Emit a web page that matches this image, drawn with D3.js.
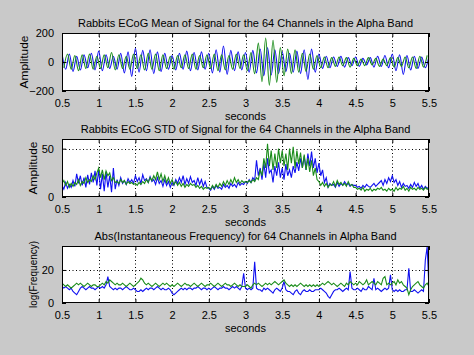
<!DOCTYPE html>
<html><head><meta charset="utf-8">
<script src="https://cdn.jsdelivr.net/npm/d3@7"></script>
<style>
body{margin:0;background:#c9c9c9;}
svg{display:block}
text{font-family:"Liberation Sans",Arial,Helvetica,sans-serif;fill:#000;}
</style>
</head><body>
<svg id="chart" width="474" height="355"></svg>
<script>
// ---------- DATA ----------
const xTicks = [0.5, 1, 1.5, 2, 2.5, 3, 3.5, 4, 4.5, 5, 5.5];
const xTickLabels = ["0.5","1","1.5","2","2.5","3","3.5","4","4.5","5","5.5"];
const xLabel = "seconds";

const titles = [
  "Rabbits ECoG Mean  of Signal for the 64 Channels in the Alpha Band",
  "Rabbits ECoG STD of Signal for the 64 Channels in the Alpha Band",
  "Abs(Instantaneous Frequency) for 64 Channels in Alpha Band"
];
const yLabels = ["Amplitude", "Amplitude", "log(Frequency)"];
const yTicksMean = [-200, 0, 200];
const yTicksStd = [0, 50];
const yTicksFreq = [0, 20];
const yDomainMean = [-200, 200];
const yDomainStd = [0, 60];
const yDomainFreq = [0, 34.5];

// Mean signal: successive peaks / troughs (start time, step between extrema)
const meanBlueStart = 0.5, meanGreenStart = 0.525, meanStep = 0.05;
const meanBlue = [
  60,-50,55,-65,40,-55,50,-40,60,-55,
  75,-60,50,-45,40,-50,60,-75,70,-100,
  95,-70,80,-60,85,-80,70,-65,60,-50,
  45,-55,60,-50,75,-60,65,-55,70,-50,
  60,-75,85,-70,110,-85,80,-60,70,-55,
  65,-70,80,-75,90,-95,100,-90,85,-80,
  70,-65,60,-70,75,-80,85,-120,90,-70,
  55,-45,40,-40,35,-30,40,-35,30,-25,
  35,-30,25,-20,30,-35,40,-30,45,-40,
  55,-60,50,-85,45,-55,40,-45,35,-40,
  40
];
const meanGreen = [
  -40,55,-50,45,-60,50,-45,55,-50,40,
  -45,50,-40,65,-55,50,-45,40,-50,55,
  -45,50,-55,60,-50,55,-60,50,-45,40,
  -50,45,-40,50,-45,55,-50,45,-40,50,
  -45,55,-60,50,-55,45,-50,55,-45,50,
  -60,65,-80,130,-135,165,-160,150,-140,100,
  -95,90,-80,85,-70,60,-65,55,-50,45,
  -40,35,-40,30,-30,35,-25,30,-35,25,
  -25,20,-25,30,-20,25,-30,20,-25,30,
  -35,30,-30,35,-40,35,-45,40,-35,45
];

// STD and frequency: samples every 25 ms from 0.5 s
const sampleStart = 0.5, sampleStep = 0.025;
const stdBlue = [
  12,8,15,9,13,10,17,11,24,14,22,12,20,10,23,13,25,15,27,12,
  28,8,24,6,26,10,22,5,30,8,18,12,20,14,17,13,19,15,18,14,
  22,16,20,14,23,17,19,15,21,16,18,13,20,14,17,11,18,12,16,10,
  15,12,18,14,20,15,22,13,19,14,21,15,17,12,20,13,18,11,16,10,
  9,7,11,8,12,9,10,8,13,10,12,9,14,11,13,10,15,12,14,13,
  16,14,18,15,20,17,38,22,30,18,35,20,40,25,28,15,32,22,36,20,
  30,18,34,22,28,20,32,25,36,27,40,30,42,28,45,32,47,30,40,25,
  35,22,28,15,20,10,14,12,13,10,15,11,14,12,16,13,14,11,13,12,
  12,10,11,9,12,10,13,11,10,12,14,11,13,15,17,12,18,14,20,16,
  22,15,18,12,16,10,14,11,12,9,13,10,15,11,14,9,12,8,11,9,
  10
];
const stdGreen = [
  14,17,12,16,10,14,11,15,13,18,12,16,14,20,15,18,16,22,18,25,
  30,20,28,18,27,22,25,17,20,15,16,14,18,15,17,13,16,14,15,13,
  14,12,15,13,16,14,18,15,20,17,22,18,26,18,24,16,22,15,20,14,
  18,13,16,12,15,11,14,10,13,11,14,12,13,10,12,9,11,8,10,9,
  10,8,12,9,13,10,14,11,16,12,17,13,18,14,20,15,18,14,17,15,
  16,15,17,15,18,16,20,18,28,22,40,30,55,32,48,28,45,30,50,35,
  48,32,45,28,50,35,52,30,48,34,46,30,44,28,40,26,38,22,30,18,
  16,12,15,11,14,10,13,12,16,11,17,13,15,12,14,11,16,12,13,10,
  10,8,9,7,10,6,8,7,9,6,8,7,9,8,10,7,8,6,9,7,
  8,6,10,7,9,8,11,7,9,6,10,8,9,7,10,8,9,7,10,8,
  9
];
const freqBlue = [
  10,9,10,9,8,9,7,6,5,7,9,10,9,8,9,10,9,9,8,9,
  10,9,10,9,11,16,10,9,8,9,8,9,9,8,9,10,9,8,8,9,
  8,7,7,8,7,8,9,8,9,9,8,9,10,9,8,9,8,8,9,8,
  6,5,6,7,8,9,8,9,8,9,9,8,9,9,10,9,8,9,9,8,
  9,8,9,10,9,8,9,9,10,9,9,8,9,10,9,10,9,8,10,18,
  9,8,9,8,9,25,9,8,8,7,9,8,9,8,7,6,8,9,8,7,
  9,13,8,7,7,6,5,7,8,6,5,7,8,7,7,8,7,7,8,8,
  8,9,8,7,6,4,3,5,7,8,8,9,8,7,8,9,8,19,9,8,
  8,9,8,7,9,8,8,10,9,8,15,8,9,8,7,8,9,8,9,17,
  8,7,8,7,8,7,7,8,8,21,7,7,8,7,6,7,8,7,26,34,
  8
];
const freqGreen = [
  12,11,10,11,10,9,10,11,12,11,12,11,10,11,12,11,10,11,11,10,
  10,11,12,11,13,12,14,13,12,11,12,11,11,12,11,10,11,12,11,10,
  11,12,13,15,14,12,11,12,11,10,11,12,11,10,11,12,11,12,11,10,
  11,10,11,12,11,10,11,12,11,11,10,11,12,11,10,11,12,11,10,11,
  11,12,11,10,11,12,11,10,11,12,11,11,10,11,12,11,10,11,10,10,
  10,11,10,9,11,12,11,12,11,10,11,12,11,12,11,12,13,12,11,12,
  13,14,12,11,10,11,10,11,10,11,12,11,10,11,10,11,10,11,10,11,
  10,11,12,11,12,13,12,11,12,11,10,11,12,11,10,12,11,13,12,11,
  12,11,13,12,11,12,14,11,12,13,12,11,13,12,11,15,16,11,12,11,
  12,13,11,14,12,13,11,10,9,5,8,10,11,12,13,11,10,9,11,12,
  10
];

// ---------- DRAW ----------
const svg = d3.select("#chart");
const left = 62, right = 429;
const x = d3.scaleLinear().domain([0.5, 5.5]).range([left, right]);
const BLUE = "#1010f0", GREEN = "#1a8c1a";

const toPts = (arr, start, step) => arr.map((v, i) => [start + i * step, v]);

const panels = [
  {top: 33, bottom: 91, dom: yDomainMean, ticks: yTicksMean, ylx: 28, ylen: 53, curve: d3.curveMonotoneX,
   series: [toPts(meanBlue, meanBlueStart, meanStep), toPts(meanGreen, meanGreenStart, meanStep)]},
  {top: 139, bottom: 197, dom: yDomainStd, ticks: yTicksStd, ylx: 37, ylen: 53, curve: d3.curveLinear,
   series: [toPts(stdBlue, sampleStart, sampleStep), toPts(stdGreen, sampleStart, sampleStep)]},
  {top: 246, bottom: 303, dom: yDomainFreq, ticks: yTicksFreq, ylx: 37, ylen: 67, curve: d3.curveLinear,
   series: [toPts(freqBlue, sampleStart, sampleStep), toPts(freqGreen, sampleStart, sampleStep)]}
];

panels.forEach((p, k) => {
  const y = d3.scaleLinear().domain(p.dom).range([p.bottom, p.top]);
  const g = svg.append("g");
  const h = p.bottom - p.top;
  g.append("rect").attr("x", left).attr("y", p.top).attr("width", right - left).attr("height", h)
    .attr("fill", "#fff");

  // grid
  g.selectAll(".vg").data(xTicks.slice(1, -1)).enter().append("line")
    .attr("x1", d => Math.round(x(d)) + 0.5).attr("x2", d => Math.round(x(d)) + 0.5)
    .attr("y1", p.top).attr("y2", p.bottom)
    .attr("stroke", "#000").attr("stroke-width", 1).attr("stroke-dasharray", "1,2.5");
  g.selectAll(".hg").data(p.ticks.filter(t => t > p.dom[0] && t < p.dom[1])).enter().append("line")
    .attr("y1", d => Math.round(y(d)) + 0.5).attr("y2", d => Math.round(y(d)) + 0.5)
    .attr("x1", left).attr("x2", right)
    .attr("stroke", "#000").attr("stroke-width", 1).attr("stroke-dasharray", "1,2.5");

  // clip
  const cid = "clip" + k;
  svg.append("clipPath").attr("id", cid).append("rect")
    .attr("x", left).attr("y", p.top).attr("width", right - left).attr("height", h);

  const line = d3.line().x(d => x(d[0])).y(d => y(d[1])).curve(p.curve);
  const lg = g.append("g").attr("clip-path", `url(#${cid})`);
  [BLUE, GREEN].forEach((c, i) => {
    lg.append("path").attr("d", line(p.series[i])).attr("fill", "none")
      .attr("stroke", c).attr("stroke-width", 1.1);
  });

  // axes (ticks inward)
  const tl = 4;
  const xb = d3.axisBottom(x).tickValues(xTicks).tickFormat((d, i) => xTickLabels[i]).tickSizeInner(-tl).tickSizeOuter(0).tickPadding(8);
  const xt = d3.axisTop(x).tickValues(xTicks).tickFormat("").tickSizeInner(-tl).tickSizeOuter(0);
  const yl = d3.axisLeft(y).tickValues(p.ticks).tickSizeInner(-tl).tickSizeOuter(0).tickPadding(8);
  const yr = d3.axisRight(y).tickValues(p.ticks).tickFormat("").tickSizeInner(-tl).tickSizeOuter(0);
  const ax = [
    g.append("g").attr("transform", `translate(0,${p.bottom})`).call(xb),
    g.append("g").attr("transform", `translate(0,${p.top})`).call(xt),
    g.append("g").attr("transform", `translate(${left},0)`).call(yl),
    g.append("g").attr("transform", `translate(${right},0)`).call(yr)
  ];
  ax.forEach(a => {
    a.select(".domain").remove();
    a.selectAll("line").attr("stroke", "#000");
    a.selectAll("text").attr("font-size", 11).attr("font-family", '"Liberation Sans",Arial,sans-serif').attr("fill", "#000");
  });
  g.append("rect").attr("x", left + 0.5).attr("y", p.top + 0.5).attr("width", right - left - 1).attr("height", h - 1)
    .attr("fill", "none").attr("stroke", "#000").attr("stroke-width", 1);

  // title & labels
  g.append("text").attr("x", (left + right) / 2).attr("y", p.top - 6).attr("text-anchor", "middle")
    .attr("font-size", 11).text(titles[k]);
  g.append("text").attr("x", (left + right) / 2).attr("y", p.bottom + 28.5).attr("text-anchor", "middle")
    .attr("font-size", 11).text(xLabel);
  g.append("text").attr("transform", `translate(${p.ylx},${(p.top + p.bottom) / 2}) rotate(-90)`)
    .attr("text-anchor", "middle").attr("font-size", 11)
    .attr("textLength", p.ylen).attr("lengthAdjust", "spacingAndGlyphs").text(yLabels[k]);
});
</script>
</body></html>
